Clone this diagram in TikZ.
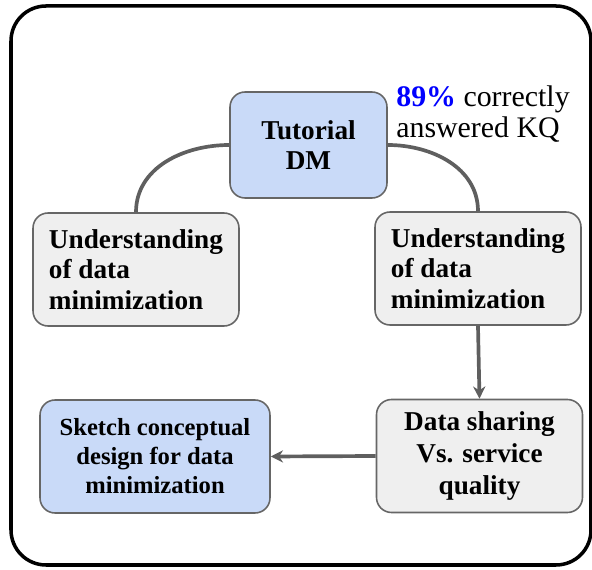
\documentclass[tikz,border=0pt]{standalone}
\usepackage{fontspec}
\setmainfont{LiberationSerif}[Extension=.ttf, UprightFont=*-Regular, BoldFont=*-Bold]
\usetikzlibrary{arrows.meta,positioning}
\definecolor{boxblue}{HTML}{C9DAF8}
\definecolor{boxgray}{HTML}{EFEFEF}
\definecolor{edgegray}{HTML}{666666}
\definecolor{linkgray}{HTML}{5F5F5F}
\definecolor{kqblue}{HTML}{0000FF}

\begin{document}
\begin{tikzpicture}[x=0.02cm, y=-0.02cm, >=Stealth,
  card/.style={draw=edgegray, line width=0.9pt, rounded corners=0.3cm,
    minimum width=4.12cm, minimum height=2.26cm,
    font=\fontsize{15.5}{17.5}\selectfont\bfseries},
  link/.style={draw=linkgray, line width=2.1pt},
  arrowlink/.style={link, -{Stealth[length=7pt,width=7pt]}}]
\useasboundingbox (0,0) rectangle (592,570);
% frame
\draw[line width=2pt, rounded corners=0.7cm] (11,6) rectangle (591,565);
% steps
\node[card, fill=boxblue, align=center, minimum width=3.14cm, minimum height=2.12cm]
  (tut) at (308.5,145) {Tutorial\\DM};
\node[card, fill=boxgray, align=left] (undl) at (136,269.5) {Understanding\\of data\\minimization};
\node[card, fill=boxgray, align=left] (undr) at (478,268.5) {Understanding\\of data\\minimization};
\node[card, fill=boxgray, align=center, font=\fontsize{15.5}{18}\selectfont\bfseries]
  (share) at (479.5,456) {Data sharing\\Vs. service\\quality};
\node[card, fill=boxblue, align=center, minimum width=4.6cm,
  font=\fontsize{14}{16.5}\selectfont\bfseries] (sketch) at (155,456.5)
  {Sketch conceptual\\design for data\\minimization};
% note
\node[align=left, font=\fontsize{17}{18}\selectfont] (kq) at (483,114)
  {\textcolor{kqblue}{\bfseries 89\%} correctly\\answered KQ};
% connections
\draw[link] (tut.west) to[out=180,in=90] (undl.north);
\draw[link] (tut.east) to[out=0,in=90] (undr.north);
\draw[arrowlink] (undr.south) -- (share.north);
\draw[arrowlink] (share.west) -- (sketch.east);
\end{tikzpicture}
\end{document}
